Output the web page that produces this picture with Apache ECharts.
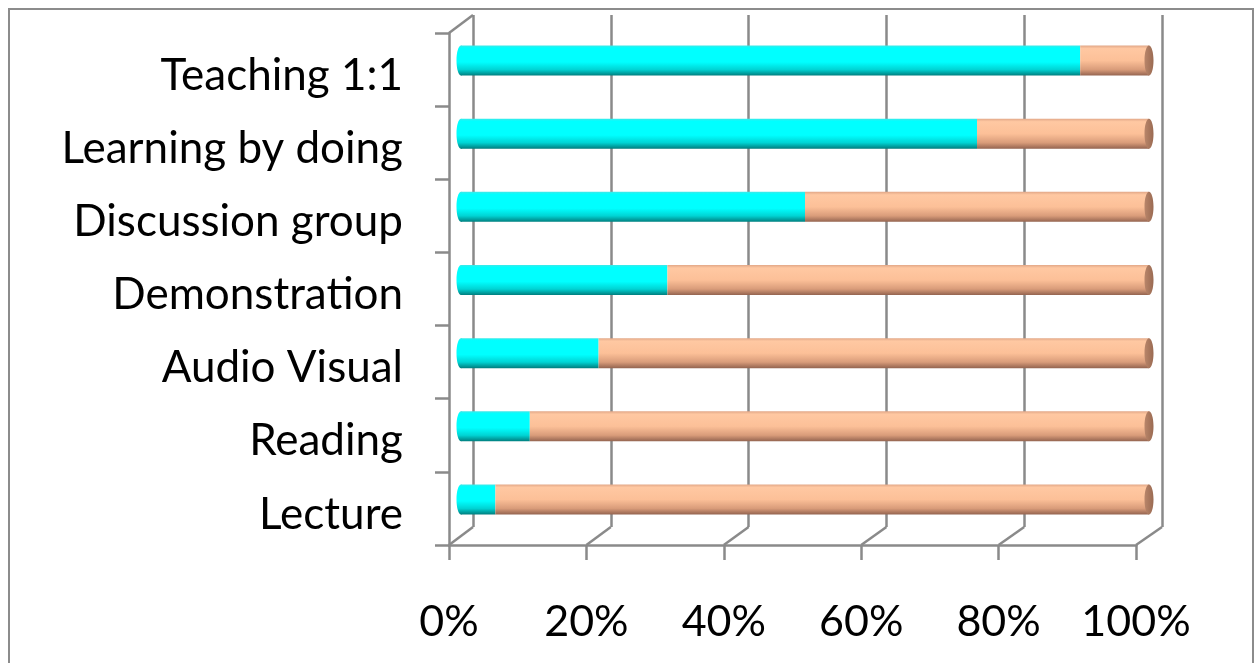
<!DOCTYPE html>
<html><head><meta charset="utf-8">
<script src="https://cdn.jsdelivr.net/npm/echarts@6/dist/echarts.min.js"></script>
<style>html,body{margin:0;padding:0;background:#fff}#c{width:1255px;height:663px}</style>
</head><body><div id="c"></div>
<script>
const categories = ['Lecture','Reading','Audio Visual','Demonstration','Discussion group','Learning by doing','Teaching 1:1'];
const cyanValues = [5, 10, 20, 30, 50, 75, 90];
const peachValues = [95, 90, 80, 70, 50, 25, 10];
const xTicks = [0, 20, 40, 60, 80, 100];
const xTickLabels = ['0%', '20%', '40%', '60%', '80%', '100%'];

const BACK = {left: 473, top: 15, width: 689, height: 512};
const FRONT = {left: 449, top: 33, width: 687, height: 512};
const MID = {left: 461, top: 24, width: 688, height: 512};
const LABELS = {left: 449, top: 39, width: 687, height: 512};
const LINE = '#8a8a8a';
const FONT = 'Lato';

const cyanStops = [
  {offset: 0, color: '#3ee8e8'}, {offset: 0.08, color: '#00ffff'},
  {offset: 0.55, color: '#00ffff'}, {offset: 0.8, color: '#00d4d4'}, {offset: 1, color: '#007e7e'}
];
const peachStops = [
  {offset: 0, color: '#e2a888'}, {offset: 0.1, color: '#ffc8a2'},
  {offset: 0.5, color: '#fcc098'}, {offset: 0.8, color: '#d99c7a'}, {offset: 1, color: '#946450'}
];
const capStops = [
  {offset: 0, color: '#b9866a'}, {offset: 1, color: '#9a6a52'}
];

function gridOf(r) { return {left: r.left, top: r.top, width: r.width, height: r.height}; }

function cylinder(stops, startCap, endCap) {
  return function (params, api) {
    const s = api.coord([api.value(0), api.value(2)]);
    const e = api.coord([api.value(1), api.value(2)]);
    const band = api.size([0, 1])[1];
    const h = band * 0.41;
    const rx = 4.5;
    const fill = new echarts.graphic.LinearGradient(0, 0, 0, 1, stops);
    const children = [];
    if (startCap) children.push({type: 'ellipse', shape: {cx: s[0], cy: s[1], rx: rx, ry: h / 2}, style: {fill: fill}});
    children.push({type: 'rect', shape: {x: s[0], y: s[1] - h / 2, width: e[0] - s[0], height: h}, style: {fill: fill}});
    if (endCap) children.push({type: 'ellipse', shape: {cx: e[0], cy: e[1], rx: rx, ry: h / 2},
      style: {fill: new echarts.graphic.LinearGradient(0, 0, 1, 0, capStops)}});
    return {type: 'group', children: children};
  };
}

const chart = echarts.init(document.getElementById('c'), null, {renderer: 'canvas'});
const valueAxisBase = {type: 'value', min: 0, max: 100, interval: 20};
chart.setOption({
  animation: false,
  backgroundColor: '#ffffff',
  grid: [gridOf(BACK), gridOf(FRONT), gridOf(MID), gridOf(LABELS)],
  xAxis: [
    Object.assign({gridIndex: 0, axisLine: {show: false}, axisTick: {show: false}, axisLabel: {show: false},
      splitLine: {show: true, lineStyle: {color: LINE, width: 2.5}}}, valueAxisBase),
    Object.assign({gridIndex: 1, axisLine: {show: true, lineStyle: {color: LINE, width: 2.5}},
      axisTick: {show: true, length: 15, lineStyle: {color: LINE, width: 2.5}},
      axisLabel: {show: true, margin: 56, fontFamily: FONT, fontSize: 43, color: '#000',
        formatter: function (v) { const i = xTicks.indexOf(v); return i >= 0 ? xTickLabels[i] : ''; }},
      splitLine: {show: false}}, valueAxisBase),
    Object.assign({gridIndex: 2, show: false}, valueAxisBase),
    Object.assign({gridIndex: 3, show: false}, valueAxisBase)
  ],
  yAxis: [
    {gridIndex: 0, type: 'category', data: categories, show: false},
    {gridIndex: 1, type: 'category', data: categories,
      axisLine: {show: true, lineStyle: {color: LINE, width: 2.5}},
      axisTick: {show: true, length: 14, lineStyle: {color: LINE, width: 2.5}},
      axisLabel: {show: false},
      splitLine: {show: false}},
    {gridIndex: 2, type: 'category', data: categories, show: false},
    {gridIndex: 3, type: 'category', data: categories,
      axisLine: {show: false}, axisTick: {show: false}, splitLine: {show: false},
      axisLabel: {margin: 46, fontFamily: FONT, fontSize: 44, color: '#000'}}
  ],
  series: [
    {type: 'custom', name: 'cyan', xAxisIndex: 2, yAxisIndex: 2, encode: {x: [0, 1], y: 2},
      renderItem: cylinder(cyanStops, true, false),
      data: categories.map(function (c, i) { return [0, cyanValues[i], i]; })},
    {type: 'custom', name: 'peach', xAxisIndex: 2, yAxisIndex: 2, encode: {x: [0, 1], y: 2},
      renderItem: cylinder(peachStops, false, true),
      data: categories.map(function (c, i) { return [cyanValues[i], cyanValues[i] + peachValues[i], i]; })}
  ]
});

// 3D frame decoration: diagonals linking back wall to front plane
const g = [{type: 'rect', z: -10, shape: {x: 9, y: 9, width: 1244, height: 700},
  style: {fill: null, stroke: '#8c8c8c', lineWidth: 2}}];
const backBottom = BACK.top + BACK.height, frontBottom = FRONT.top + FRONT.height;
xTicks.forEach(function (v) {
  const bx = chart.convertToPixel({xAxisIndex: 0}, v);
  const fx = chart.convertToPixel({xAxisIndex: 1}, v);
  g.push({type: 'line', shape: {x1: bx, y1: backBottom, x2: fx, y2: frontBottom}, style: {stroke: LINE, lineWidth: 2.5}});
});
g.push({type: 'line', shape: {x1: FRONT.left, y1: FRONT.top, x2: BACK.left, y2: BACK.top}, style: {stroke: LINE, lineWidth: 2.5}});
chart.setOption({graphic: g});
</script></body></html>
